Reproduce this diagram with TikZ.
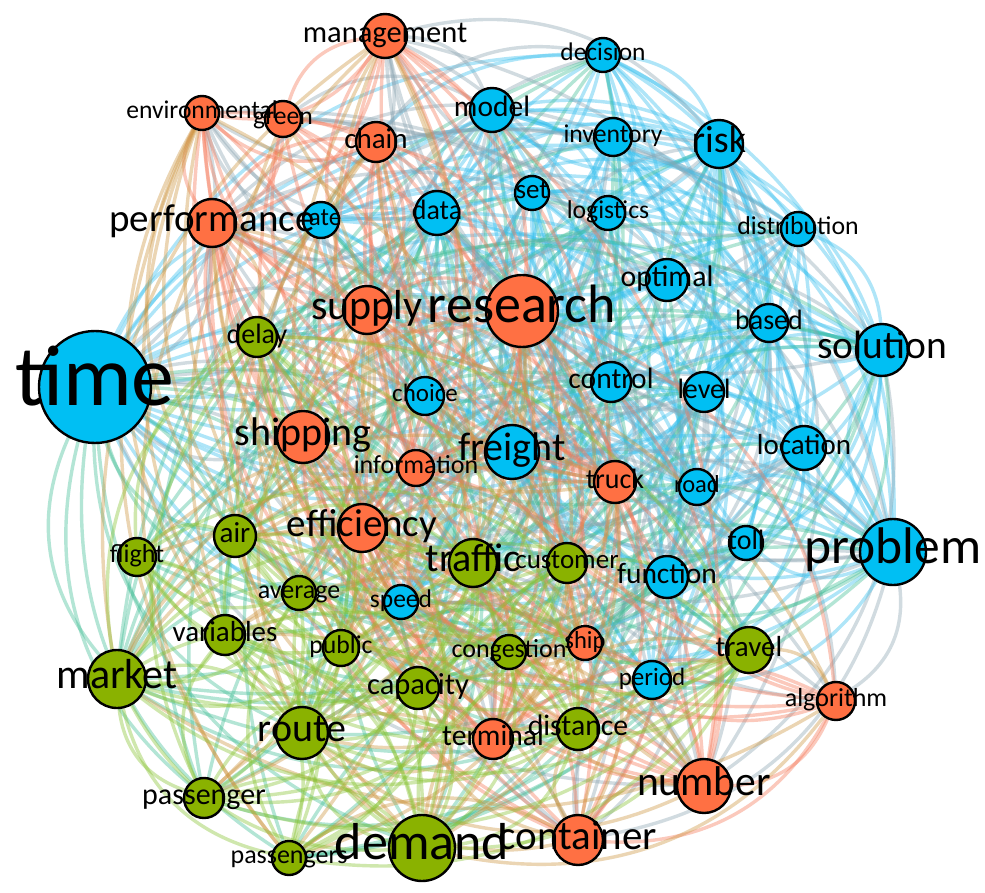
\documentclass[tikz,border=0pt]{standalone}
\usepackage{fontspec}
\setmainfont{Carlito}
\usetikzlibrary{backgrounds}

% node fills
\definecolor{cb}{RGB}{0,191,243}
\definecolor{co}{RGB}{255,112,67}
\definecolor{cg}{RGB}{138,178,0}
% link colours (mix of the two end groups)
\definecolor{ebb}{RGB}{55,192,238}
\definecolor{eoo}{RGB}{245,120,88}
\definecolor{egg}{RGB}{135,195,50}
\definecolor{ebo}{RGB}{140,165,178}
\definecolor{eob}{RGB}{140,165,178}
\definecolor{ebg}{RGB}{65,190,150}
\definecolor{egb}{RGB}{65,190,150}
\definecolor{eog}{RGB}{205,150,65}
\definecolor{ego}{RGB}{205,150,65}

\tikzset{
  kw/.style={circle, draw=black, line width=2.4pt, inner sep=0pt},
  kwlabel/.style={inner sep=0pt, text=black},
  link/.style={line width=3.4pt, draw opacity=0.4},
}

% name / x / y / radius / group / label size
\def\kwlist{time/95/387/57/b/86,
model/492/110/23/b/29.5,
decision/603/55/18/b/25.4,
inventory/613/137/20/b/25.7,
risk/719/144/25/b/38,
set/532/193/18/b/27,
logistics/608/213/18/b/25.7,
data/437/213/23/b/28,
rate/321/220/19/b/25,
distribution/798/229/18/b/25.8,
optimal/667/280/22/b/29.8,
based/769/323/20/b/28,
solution/882/350/27/b/39.5,
choice/425/396/20/b/25,
control/611/382/21/b/29.5,
level/704/392/21/b/28,
freight/512/452/28/b/40,
location/804/448/23/b/29,
road/697/487/19/b/24.5,
toll/746/543/18/b/28,
problem/893/552/34/b/51.5,
function/667/577/22/b/29.5,
speed/401/602/18/b/25.5,
period/652/680/20/b/25,
management/385/36/23/o/30.5,
environmental/202/113/18/o/25.6,
green/283/119/19/o/25.6,
chain/376/142/21/o/29,
performance/212/223/25/o/39,
supply/367/310/25/o/42,
research/522/311/37/o/54,
shipping/303/437/27/o/40,
information/416/468/19/o/26,
efficiency/362/528/25/o/39,
truck/615/482/22/o/28,
ship/585/643/18/o/24.6,
algorithm/836/701/20/o/26,
terminal/493/739/21/o/29.6,
number/704/786/28/o/41.6,
container/578/840/26/o/41,
delay/257/337/21/g/28,
air/235/536/22/g/29,
flight/137/557/20/g/26,
traffic/473/563/25/g/40,
customer/567/563/21/g/27,
average/299/593/18/g/26,
variables/225/635/21/g/29,
public/341/648/19/g/25.7,
market/117/679/30/g/42,
congestion/509/652/18/g/26,
capacity/418/688/22/g/30.5,
travel/749/650/24/g/29,
route/302/733/27/g/40,
distance/578/729/22/g/29.7,
passenger/204/798/21/g/30,
passengers/289/858/18/g/26,
demand/422/848/34/g/52}

\begin{document}
\begin{tikzpicture}[x=1pt,y=-1pt]
\useasboundingbox (0,0) rectangle (985,893);

% keyword circles
\foreach \n/\x/\y/\r/\g/\f in \kwlist
  \node[kw, fill=c\g, minimum size=\r*2pt-2pt] (\n) at (\x,\y) {};

% keyword labels, on top of every circle
\foreach \n/\x/\y/\r/\g/\f in \kwlist
  \node[kwlabel, font=\fontsize{\f}{\f}\selectfont,
        text height={\f*0.6pt}, text depth={\f*0.16pt}] (\n-l) at (\n.center) {\n};

% co-occurrence links behind the circles: links inside a cluster are
% much more frequent than links between clusters
\begin{scope}[on background layer]
  \fill[white] (0,0) rectangle (985,893);
  \pgfmathsetseed{11}
  \foreach \a/\xa/\ya/\ra/\ga/\fa [count=\i] in \kwlist {
    \foreach \b/\xb/\yb/\rb/\gb/\fb [count=\j] in \kwlist {
      \ifnum\j>\i
        \if\ga\gb
          \pgfmathtruncatemacro\p{(\ra+\rb)*2.1-22}
        \else
          \pgfmathtruncatemacro\p{(\ra+\rb)*1.35-32}
        \fi
        \pgfmathrandominteger{\u}{1}{100}
        \pgfmathrandominteger{\s}{0}{1}
        \pgfmathtruncatemacro\ang{\s==0 ? 32 : -32}
        \ifnum\u<\p
          \draw[link, draw=e\ga\gb] (\a) to[bend left=\ang] (\b);
        \fi
      \fi
    }
  }
\end{scope}
\end{tikzpicture}
\end{document}
